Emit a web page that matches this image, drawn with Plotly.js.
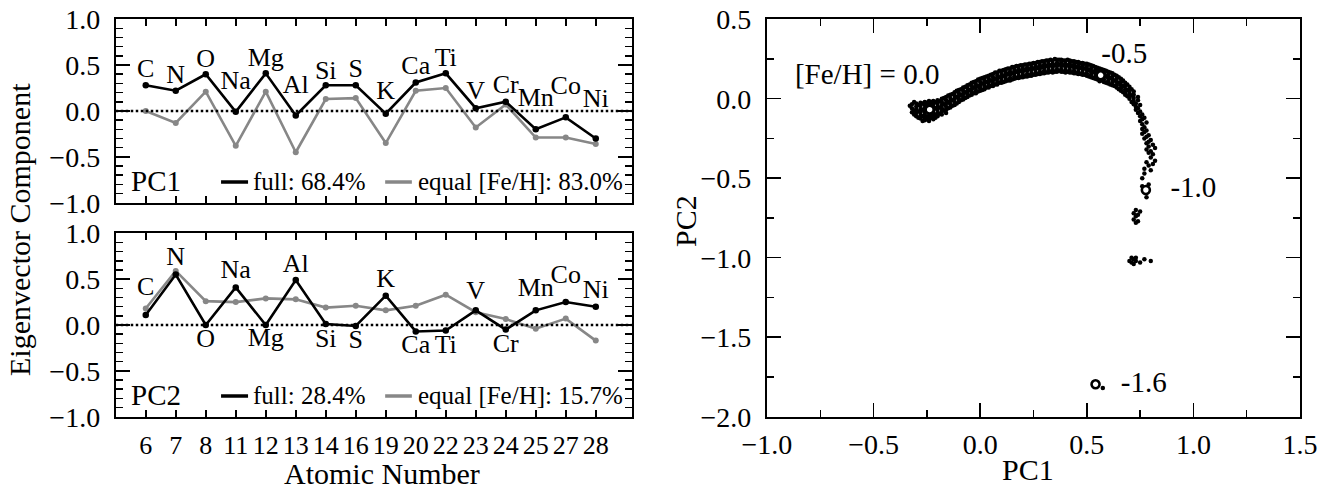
<!DOCTYPE html>
<html>
<head>
<meta charset="utf-8">
<script src="https://cdn.plot.ly/plotly-3.0.1.min.js"></script>
<style>html,body{margin:0;padding:0;background:#fff;}#chart{width:1332px;height:492px;}</style>
</head>
<body>
<div id="chart"></div>
<script>
// ---------- data ----------
const atomicNumbers = [6, 7, 8, 11, 12, 13, 14, 16, 19, 20, 22, 23, 24, 25, 27, 28];
const elements = ['C', 'N', 'O', 'Na', 'Mg', 'Al', 'Si', 'S', 'K', 'Ca', 'Ti', 'V', 'Cr', 'Mn', 'Co', 'Ni'];
const pc1Full  = [0.28, 0.22, 0.40, -0.01, 0.41, -0.05, 0.28, 0.28, -0.03, 0.31, 0.41, 0.03, 0.10, -0.20, -0.07, -0.30];
const pc1Equal = [0.00, -0.13, 0.21, -0.38, 0.21, -0.45, 0.13, 0.14, -0.35, 0.22, 0.25, -0.18, 0.07, -0.29, -0.29, -0.36];
const pc2Full  = [0.11, 0.55, 0.00, 0.41, 0.00, 0.49, 0.01, -0.01, 0.32, -0.07, -0.06, 0.16, -0.05, 0.16, 0.25, 0.20];
const pc2Equal = [0.18, 0.59, 0.26, 0.25, 0.29, 0.28, 0.19, 0.21, 0.16, 0.21, 0.33, 0.14, 0.065, -0.04, 0.07, -0.17];
const pc1LabelY = [0.44, 0.38, 0.55, 0.31, 0.56, 0.27, 0.42, 0.44, 0.20, 0.47, 0.56, 0.20, 0.27, 0.13, 0.26, 0.11];
const pc2LabelY = [0.40, 0.72, -0.17, 0.58, -0.16, 0.65, -0.17, -0.18, 0.49, -0.23, -0.23, 0.35, -0.22, 0.39, 0.53, 0.36];
const pc1Legend = ['PC1', 'full: 68.4%', 'equal [Fe/H]: 83.0%'];
const pc2Legend = ['PC2', 'full: 28.4%', 'equal [Fe/H]: 15.7%'];

// stars in PC1-PC2 plane, read column by column: [PC1, [PC2 values]]
const starColumns = [
  [-0.33, [-0.045]],
  [-0.32, [-0.035, -0.06, -0.085]],
  [-0.31, [-0.02, -0.075, -0.10]],
  [-0.30, [-0.03, -0.05, -0.07, -0.09, -0.11]],
  [-0.29, [-0.04, -0.08, -0.12]],
  [-0.28, [-0.025, -0.045, -0.065, -0.085, -0.105, -0.125]],
  [-0.27, [-0.03, -0.07, -0.11, -0.14]],
  [-0.26, [-0.02, -0.04, -0.06, -0.08, -0.10, -0.12, -0.135]],
  [-0.25, [-0.025, -0.045, -0.115, -0.13]],
  [-0.24, [-0.015, -0.035, -0.105, -0.125, -0.14]],
  [-0.23, [-0.02, -0.04, -0.10, -0.12]],
  [-0.22, [-0.015, -0.035, -0.055, -0.075, -0.095, -0.115, -0.13]],
  [-0.21, [-0.02, -0.06, -0.10, -0.12]],
  [-0.20, [-0.01, -0.03, -0.05, -0.07, -0.09, -0.11]],
  [-0.19, [-0.015, -0.055, -0.095]],
  [-0.18, [0.0, -0.02, -0.04, -0.06, -0.08, -0.10]],
  [-0.17, [0.005, -0.035, -0.075]],
  [-0.16, [0.01, -0.01, -0.03, -0.05, -0.07, -0.09]],
  [-0.15, [0.02, -0.02, -0.06]],
  [-0.14, [0.025, 0.005, -0.015, -0.035, -0.055]],
  [-0.13, [0.03, -0.01, -0.045]],
  [-0.12, [0.04, 0.02, 0.0, -0.02, -0.04]],
  [-0.11, [0.05, 0.01, -0.03]],
  [-0.10, [0.055, 0.035, 0.015, -0.005, -0.02]],
  [-0.09, [0.06, 0.025, -0.01]],
  [-0.08, [0.07, 0.05, 0.03, 0.01, -0.005]],
  [-0.07, [0.075, 0.04, 0.005]],
  [-0.06, [0.085, 0.065, 0.045, 0.025, 0.01]],
  [-0.05, [0.09, 0.055, 0.02]],
  [-0.04, [0.10, 0.08, 0.06, 0.04, 0.025]],
  [-0.03, [0.105, 0.07, 0.035]],
  [-0.02, [0.11, 0.09, 0.07, 0.05, 0.035]],
  [-0.01, [0.12, 0.08, 0.045]],
  [0.00, [0.125, 0.105, 0.085, 0.065, 0.05]],
  [0.01, [0.13, 0.095, 0.055]],
  [0.02, [0.135, 0.115, 0.095, 0.075, 0.06]],
  [0.03, [0.14, 0.105, 0.07]],
  [0.04, [0.145, 0.125, 0.105, 0.085, 0.07]],
  [0.05, [0.15, 0.115, 0.08]],
  [0.06, [0.155, 0.135, 0.115, 0.095, 0.08]],
  [0.07, [0.165, 0.125, 0.09]],
  [0.08, [0.165, 0.145, 0.125, 0.105, 0.09]],
  [0.09, [0.175, 0.135, 0.10]],
  [0.10, [0.175, 0.155, 0.135, 0.115, 0.10]],
  [0.11, [0.18, 0.145, 0.105]],
  [0.12, [0.185, 0.165, 0.145, 0.125, 0.11]],
  [0.13, [0.19, 0.155, 0.115]],
  [0.14, [0.19, 0.17, 0.15, 0.13, 0.115]],
  [0.15, [0.20, 0.16, 0.12]],
  [0.16, [0.20, 0.18, 0.16, 0.14, 0.125]],
  [0.17, [0.205, 0.17, 0.13]],
  [0.18, [0.205, 0.185, 0.165, 0.145, 0.13]],
  [0.19, [0.21, 0.175, 0.135]],
  [0.20, [0.21, 0.19, 0.17, 0.15, 0.135]],
  [0.21, [0.215, 0.18, 0.14]],
  [0.22, [0.215, 0.195, 0.175, 0.155, 0.14]],
  [0.23, [0.22, 0.185, 0.145]],
  [0.24, [0.22, 0.20, 0.18, 0.16, 0.145]],
  [0.25, [0.225, 0.19, 0.15]],
  [0.26, [0.225, 0.205, 0.185, 0.165, 0.15]],
  [0.27, [0.23, 0.195, 0.155]],
  [0.28, [0.23, 0.21, 0.19, 0.17, 0.155]],
  [0.29, [0.235, 0.20, 0.16]],
  [0.30, [0.235, 0.215, 0.195, 0.175, 0.16]],
  [0.31, [0.24, 0.205, 0.165]],
  [0.32, [0.24, 0.22, 0.20, 0.18, 0.165]],
  [0.33, [0.245, 0.21, 0.17]],
  [0.34, [0.24, 0.22, 0.20, 0.18, 0.165]],
  [0.35, [0.25, 0.21, 0.17]],
  [0.36, [0.245, 0.225, 0.205, 0.185, 0.17]],
  [0.37, [0.245, 0.215, 0.175]],
  [0.38, [0.245, 0.225, 0.205, 0.185, 0.17]],
  [0.39, [0.24, 0.21, 0.17]],
  [0.40, [0.24, 0.22, 0.20, 0.18, 0.165]],
  [0.41, [0.245, 0.21, 0.17]],
  [0.42, [0.24, 0.22, 0.20, 0.18, 0.165]],
  [0.43, [0.235, 0.205, 0.165]],
  [0.44, [0.235, 0.215, 0.195, 0.175, 0.16]],
  [0.45, [0.23, 0.20, 0.16]],
  [0.46, [0.23, 0.21, 0.19, 0.17, 0.155]],
  [0.47, [0.225, 0.195, 0.155]],
  [0.48, [0.225, 0.205, 0.185, 0.165, 0.15]],
  [0.49, [0.22, 0.19, 0.15]],
  [0.50, [0.22, 0.20, 0.18, 0.16, 0.145]],
  [0.51, [0.215, 0.18, 0.14]],
  [0.52, [0.21, 0.19, 0.17, 0.15, 0.135]],
  [0.53, [0.205, 0.17, 0.13]],
  [0.54, [0.20, 0.18, 0.16, 0.14, 0.125]],
  [0.55, [0.195, 0.175, 0.12]],
  [0.56, [0.19, 0.17, 0.125, 0.11]],
  [0.57, [0.185, 0.16, 0.115]],
  [0.58, [0.18, 0.16, 0.14, 0.12, 0.105]],
  [0.59, [0.175, 0.14, 0.10]],
  [0.60, [0.17, 0.15, 0.13, 0.11, 0.095]],
  [0.61, [0.165, 0.13, 0.09]],
  [0.62, [0.16, 0.14, 0.12, 0.10, 0.085]],
  [0.63, [0.15, 0.115, 0.08]],
  [0.64, [0.145, 0.125, 0.105, 0.085, 0.07]],
  [0.65, [0.135, 0.10, 0.06]],
  [0.66, [0.125, 0.105, 0.085, 0.065, 0.05]],
  [0.67, [0.115, 0.08, 0.04]],
  [0.68, [0.10, 0.08, 0.06, 0.04, 0.025]],
  [0.69, [0.09, 0.055, 0.015]],
  [0.70, [0.075, 0.055, 0.035, 0.015, 0.0, -1.02]],
  [0.71, [0.06, 0.02, -0.02, -1.00, -1.03]],
  [0.72, [0.045, 0.025, 0.005, -0.015, -0.035, -0.72, -0.76, -1.01, -1.04]],
  [0.73, [-0.03, -0.05, -0.07, -0.70, -0.74, -0.78, -1.00, -1.02]],
  [0.74, [0.01, -0.01, -0.06, -0.09, -0.73, -0.77]],
  [0.75, [-0.04, -0.08, -0.11, -0.14, -0.71, -1.03]],
  [0.76, [-0.10, -0.13, -0.16, -0.19, -0.22, -0.50, -0.55]],
  [0.77, [-0.12, -0.18, -0.21, -0.25, -0.44, -0.47, -1.01]],
  [0.78, [-0.15, -0.20, -0.24, -0.28, -0.32, -0.40, -0.62]],
  [0.79, [-0.23, -0.27, -0.30, -0.34, -0.42, -0.54]],
  [0.80, [-0.26, -0.33, -0.37, -0.45, -1.02]],
  [0.81, [-0.29, -0.35, -0.41]],
  [0.82, [-0.31, -0.39]],
  [0.575, [-1.82]]
];
const fehPC1 = [-0.237, 0.565, 0.777, 0.541];
const fehPC2 = [-0.069, 0.147, -0.574, -1.796];
const fehLabels = ['[Fe/H] = 0.0', '-0.5', '-1.0', '-1.6'];
const fehLabelPC1 = [-0.53, 0.676, 1.0, 0.767];
const fehLabelPC2 = [0.137, 0.273, -0.574, -1.796];

// ---------- build ----------
const FONT = 'Liberation Serif, Times New Roman, serif';
const GRAY = '#878787';
const idx = elements.map((_, i) => i);

const starX = [], starY = [];
starColumns.forEach(([x, ys]) => ys.forEach(y => { starX.push(x); starY.push(y); }));

function lineTrace(y, color, xa, ya, msize) {
  return {x: idx, y: y, xaxis: xa, yaxis: ya, mode: 'lines+markers', type: 'scatter',
    line: {color: color, width: 2.6}, marker: {color: color, size: msize, line: {width: 0}}, hoverinfo: 'skip'};
}
const traces = [
  lineTrace(pc1Equal, GRAY, 'x', 'y', 6),
  lineTrace(pc1Full, '#000', 'x', 'y', 6.5),
  {x: idx, y: pc1LabelY, text: elements, mode: 'text', xaxis: 'x', yaxis: 'y', type: 'scatter',
   textfont: {family: FONT, size: 26, color: '#000'}, textposition: 'middle center', hoverinfo: 'skip'},
  lineTrace(pc2Equal, GRAY, 'x2', 'y2', 6),
  lineTrace(pc2Full, '#000', 'x2', 'y2', 6.5),
  {x: idx, y: pc2LabelY, text: elements, mode: 'text', xaxis: 'x2', yaxis: 'y2', type: 'scatter',
   textfont: {family: FONT, size: 26, color: '#000'}, textposition: 'middle center', hoverinfo: 'skip'},
  {x: starX, y: starY, mode: 'markers', type: 'scatter', xaxis: 'x3', yaxis: 'y3',
   marker: {color: '#000', size: 4.5, line: {width: 0}}, hoverinfo: 'skip'},
  {x: fehPC1, y: fehPC2, mode: 'markers', type: 'scatter', xaxis: 'x3', yaxis: 'y3',
   marker: {color: '#fff', size: 8, line: {color: '#000', width: 2.6}}, hoverinfo: 'skip'},
  {x: fehLabelPC1, y: fehLabelPC2, text: fehLabels, mode: 'text', type: 'scatter', xaxis: 'x3', yaxis: 'y3',
   textfont: {family: FONT, size: 29, color: '#000'}, textposition: 'middle center', hoverinfo: 'skip'}
];

const tickFont = {family: FONT, size: 28, color: '#000'};
const frame = {showline: true, linecolor: '#000', linewidth: 2, mirror: 'allticks', showgrid: false,
  zeroline: false, ticks: 'inside', tickcolor: '#000', tickwidth: 1.5, tickfont: tickFont};
const leftX = [0.0869, 0.4743];
function eigY(domain, anchor) {
  return Object.assign({}, frame, {domain: domain, anchor: anchor, range: [-1, 1],
    tickvals: [-1, -0.5, 0, 0.5, 1], tickformat: '.1f', ticklen: 14, ticklabelstandoff: 8,
    minor: {ticks: 'inside', dtick: 0.1, tick0: 0, ticklen: 7, tickwidth: 1.5, tickcolor: '#000'}});
}
function catX(anchor, labels) {
  return Object.assign({}, frame, {domain: leftX, anchor: anchor, range: [-1, 16.2],
    tickvals: idx, ticktext: atomicNumbers.map(String), showticklabels: labels, ticklen: 7,
    tickangle: 0, tickfont: {family: FONT, size: 26, color: '#000'}, ticklabelstandoff: 4});
}

const shapes = [];
const annotations = [];
[['x', 'y', pc1Legend], ['x2', 'y2', pc2Legend]].forEach(([xa, ya, leg]) => {
  shapes.push({type: 'line', xref: xa, yref: ya, x0: -1, x1: 16.2, y0: 0, y1: 0,
    line: {color: '#000', width: 2.5, dash: '2.5px,2.5px'}});
  shapes.push({type: 'line', xref: xa, yref: ya, x0: 2.51, x1: 3.41, y0: -0.775, y1: -0.775,
    line: {color: '#000', width: 3.5}});
  shapes.push({type: 'line', xref: xa, yref: ya, x0: 7.98, x1: 8.87, y0: -0.775, y1: -0.775,
    line: {color: GRAY, width: 3.5}});
  annotations.push({xref: xa, yref: ya, x: 0.34, y: -0.765, text: leg[0], showarrow: false,
    xanchor: 'center', yanchor: 'middle', font: {family: FONT, size: 29, color: '#000'}});
  annotations.push({xref: xa, yref: ya, x: 3.52, y: -0.765, text: leg[1], showarrow: false,
    xanchor: 'left', yanchor: 'middle', font: {family: FONT, size: 25, color: '#000'}});
  annotations.push({xref: xa, yref: ya, x: 9.01, y: -0.765, text: leg[2], showarrow: false,
    xanchor: 'left', yanchor: 'middle', font: {family: FONT, size: 25, color: '#000'}});
});
const titleFont = {family: FONT, size: 30, color: '#000'};
annotations.push({xref: 'paper', yref: 'paper', x: 0.015, y: 0.5346, text: 'Eigenvector Component',
  textangle: -90, showarrow: false, xanchor: 'center', yanchor: 'middle', font: titleFont});
annotations.push({xref: 'paper', yref: 'paper', x: 0.287, y: 0.0, text: 'Atomic Number',
  showarrow: false, xanchor: 'center', yanchor: 'bottom', font: titleFont});
annotations.push({xref: 'paper', yref: 'paper', x: 0.772, y: 0.008, text: 'PC1',
  showarrow: false, xanchor: 'center', yanchor: 'bottom', font: titleFont});
annotations.push({xref: 'paper', yref: 'paper', x: 0.515, y: 0.551, text: 'PC2', textangle: -90,
  showarrow: false, xanchor: 'center', yanchor: 'middle', font: titleFont});

const layout = {
  width: 1332, height: 492, margin: {l: 0, r: 0, t: 0, b: 0},
  paper_bgcolor: '#fff', plot_bgcolor: '#fff', showlegend: false,
  font: {family: FONT, color: '#000'},
  xaxis: catX('y', false),
  yaxis: eigY([0.588, 0.961], 'x'),
  xaxis2: catX('y2', true),
  yaxis2: eigY([0.153, 0.5258], 'x2'),
  xaxis3: Object.assign({}, frame, {domain: [0.5758, 0.976], anchor: 'y3', range: [-1, 1.5],
    tick0: -1, dtick: 0.5, tickformat: '.1f', ticklen: 14, ticklabelstandoff: 2,
    minor: {ticks: 'inside', dtick: 0.25, tick0: 0, ticklen: 7, tickwidth: 1.5, tickcolor: '#000'}}),
  yaxis3: Object.assign({}, frame, {domain: [0.153, 0.961], anchor: 'x3', range: [-2, 0.5],
    tick0: -2, dtick: 0.5, tickformat: '.1f', ticklen: 14, ticklabelstandoff: 8,
    minor: {ticks: 'inside', dtick: 0.25, tick0: 0, ticklen: 7, tickwidth: 1.5, tickcolor: '#000'}}),
  shapes: shapes,
  annotations: annotations
};
Plotly.newPlot('chart', traces, layout, {displayModeBar: false, staticPlot: true});
</script>
</body>
</html>
